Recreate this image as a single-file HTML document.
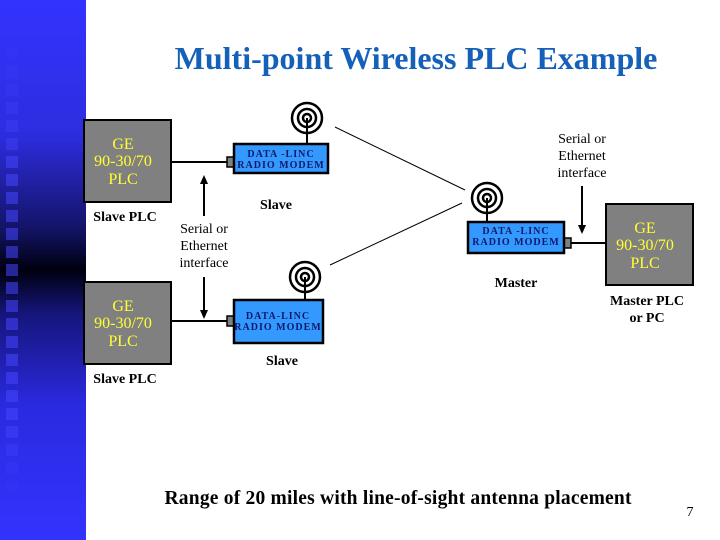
<!DOCTYPE html>
<html><head><style>
body{margin:0;width:720px;height:540px;overflow:hidden;background:#fff;position:relative;font-family:"Liberation Serif",serif}
.strip{position:absolute;left:0;top:0;width:86px;height:540px;background:linear-gradient(to bottom,#3333ff 0%,#2d2de0 25%,#14146a 42%,#000010 50%,#15157a 58%,#2a2ae0 75%,#3333ff 100%)}
.sq{position:absolute;left:6px;width:12px;height:12px;background:rgba(70,70,255,0.55)}
.t{position:absolute;white-space:nowrap}
</style></head><body>
<div class="strip">
<div class="sq" style="top:48px;opacity:.2"></div><div class="sq" style="top:66px;opacity:.3"></div><div class="sq" style="top:84px;opacity:.4"></div><div class="sq" style="top:102px;opacity:.5"></div><div class="sq" style="top:120px;opacity:.6"></div><div class="sq" style="top:138px;opacity:.7"></div><div class="sq" style="top:156px"></div><div class="sq" style="top:174px"></div><div class="sq" style="top:192px"></div><div class="sq" style="top:210px"></div><div class="sq" style="top:228px"></div><div class="sq" style="top:246px"></div><div class="sq" style="top:264px"></div><div class="sq" style="top:282px"></div><div class="sq" style="top:300px"></div><div class="sq" style="top:318px"></div><div class="sq" style="top:336px"></div><div class="sq" style="top:354px"></div><div class="sq" style="top:372px"></div><div class="sq" style="top:390px"></div><div class="sq" style="top:408px"></div><div class="sq" style="top:426px;opacity:.8"></div><div class="sq" style="top:444px;opacity:.6"></div><div class="sq" style="top:462px;opacity:.4"></div><div class="sq" style="top:480px;opacity:.2"></div>
</div>
<div class="t" style="left:0;width:832px;text-align:center;top:40px;font-size:32px;font-weight:bold;color:#1560b8">Multi-point Wireless PLC Example</div>
<svg width="720" height="540" style="position:absolute;left:0;top:0" font-family="Liberation Serif, serif">
<g stroke="#000" stroke-width="1">
<line x1="335" y1="127" x2="465" y2="190"/>
<line x1="330" y1="265" x2="462" y2="203"/>
</g>
<g stroke="#000" stroke-width="2" fill="#808080">
<rect x="84" y="120" width="87" height="82"/>
<rect x="84" y="282" width="87" height="82"/>
<rect x="606" y="204" width="87" height="81"/>
</g>
<g stroke="#000" stroke-width="2">
<line x1="171" y1="162" x2="227" y2="162"/>
<line x1="171" y1="321" x2="227" y2="321"/>
<line x1="571" y1="243" x2="606" y2="243"/>
</g>
<g fill="#808080" stroke="#000" stroke-width="1.5">
<rect x="227" y="157" width="7" height="10"/>
<rect x="227" y="316" width="7" height="10"/>
<rect x="564" y="238" width="7" height="10"/>
</g>
<g fill="#3399ff" stroke="#000" stroke-width="2.5">
<rect x="234" y="144" width="94" height="29"/>
<rect x="234" y="300" width="89" height="43"/>
<rect x="468" y="222" width="96" height="31"/>
</g>
<g fill="none" stroke="#000">
<g stroke-width="2.5"><circle cx="307" cy="118" r="15"/><circle cx="307" cy="118" r="9"/><circle cx="307" cy="118" r="4"/><line x1="307" y1="118" x2="307" y2="144" stroke-width="2"/></g>
<g stroke-width="2.5"><circle cx="305" cy="277" r="15"/><circle cx="305" cy="277" r="9"/><circle cx="305" cy="277" r="4"/><line x1="305" y1="277" x2="305" y2="300" stroke-width="2"/></g>
<g stroke-width="2.5"><circle cx="487" cy="198" r="15"/><circle cx="487" cy="198" r="9"/><circle cx="487" cy="198" r="4"/><line x1="487" y1="198" x2="487" y2="222" stroke-width="2"/></g>
</g>
<g stroke="#000" stroke-width="2">
<line x1="204" y1="216" x2="204" y2="182"/>
<line x1="204" y1="277" x2="204" y2="312"/>
<line x1="582" y1="186" x2="582" y2="227"/>
</g>
<g fill="#000">
<polygon points="200,184 208,184 204,175"/>
<polygon points="200,310 208,310 204,319"/>
<polygon points="578,225 586,225 582,234"/>
</g>
<g font-size="16" fill="#ffff33" text-anchor="middle">
<text x="123" y="149">GE</text><text x="123" y="166">90-30/70</text><text x="123" y="184">PLC</text>
<text x="123" y="311">GE</text><text x="123" y="328">90-30/70</text><text x="123" y="346">PLC</text>
<text x="645" y="233">GE</text><text x="645" y="250">90-30/70</text><text x="645" y="268">PLC</text>
</g>
<g font-size="10" font-weight="bold" fill="#10186a" text-anchor="middle" letter-spacing="1">
<text x="281" y="157">DATA -LINC</text><text x="281" y="168">RADIO MODEM</text>
<text x="278" y="319">DATA-LINC</text><text x="278" y="330">RADIO MODEM</text>
<text x="516" y="234">DATA -LINC</text><text x="516" y="245">RADIO MODEM</text>
</g>
<g font-size="14" fill="#000" text-anchor="middle" font-weight="bold">
<text x="125" y="221">Slave PLC</text>
<text x="125" y="383">Slave PLC</text>
<text x="276" y="209">Slave</text>
<text x="282" y="365">Slave</text>
<text x="516" y="287">Master</text>
<text x="647" y="305">Master PLC</text>
<text x="647" y="322">or PC</text>
</g>
<g font-size="14" fill="#000" text-anchor="middle">
<text x="204" y="233">Serial or</text><text x="204" y="250">Ethernet</text><text x="204" y="267">interface</text>
<text x="582" y="143">Serial or</text><text x="582" y="160">Ethernet</text><text x="582" y="177">interface</text>
</g>
<text x="398" y="504" font-size="19.5" font-weight="bold" text-anchor="middle" textLength="467">Range of 20 miles with line-of-sight antenna placement</text>
<text x="690" y="516" font-size="14" text-anchor="middle">7</text>
</svg>
</body></html>
